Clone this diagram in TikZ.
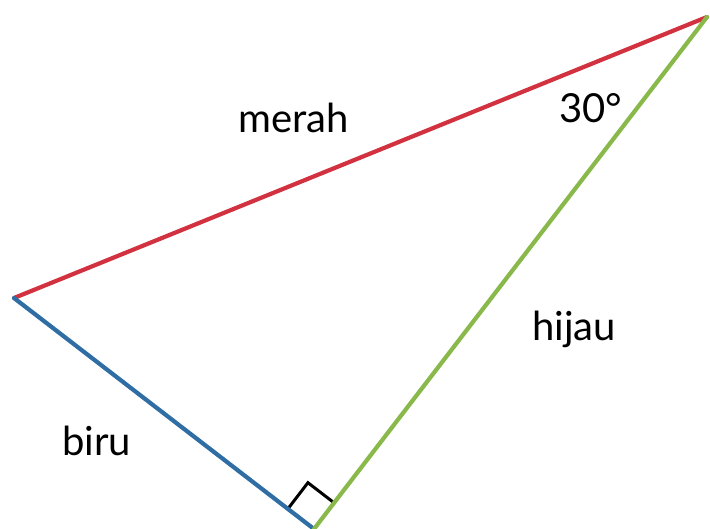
\documentclass[tikz,border=0pt]{standalone}
\usepackage{fontspec}
\setmainfont{Lato}
\usetikzlibrary{calc}
\definecolor{merah}{HTML}{D2323F}
\definecolor{biru}{HTML}{2F6DA5}
\definecolor{hijau}{HTML}{89B94B}
\begin{document}
\begin{tikzpicture}[x=1pt,y=-1pt,line width=4.2pt,line cap=round,
  lbl/.style={anchor=base west,inner sep=0pt,font=\fontsize{40}{44}\selectfont}]
\def\s{33}
\useasboundingbox (0,0) rectangle (710,528);
\coordinate (L) at (14,298);
\coordinate (B) at (314,529);
\coordinate (T) at (707,17);
\coordinate (P1) at ($(B)!\s pt!(L)$);
\coordinate (P2) at ($(B)!\s pt!(T)$);
\draw[line width=3pt,line cap=butt] (P1) -- ($(P1)+(P2)-(B)$) -- (P2);
\draw[merah] (L) -- (T);
\draw[biru] (L) -- (B);
\draw[hijau] (B) -- (T);
\node[lbl] (merah) at (236,132) {merah};
\node[lbl] (sudut) at (557,122) {30°};
\node[lbl] (hijau) at (530,340) {hijau};
\node[lbl] (biru) at (60,455) {biru};
\end{tikzpicture}
\end{document}
